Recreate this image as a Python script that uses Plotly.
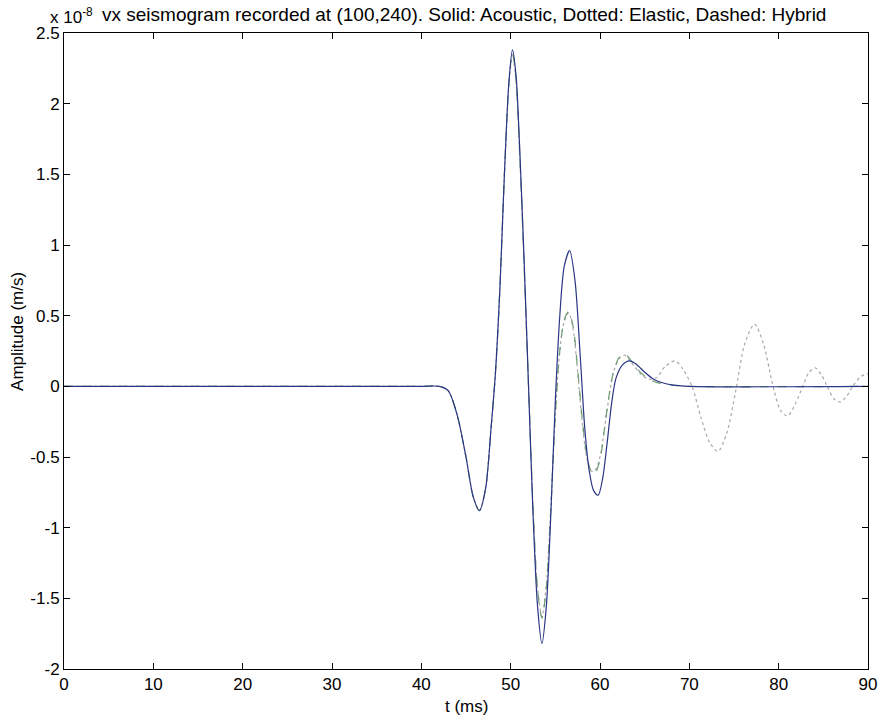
import plotly.graph_objects as go

# ---- data (amplitudes in units of 1e-8 m/s) ----
t_acoustic = [0, 40, 42, 43, 44, 45, 45.8, 46.5, 47.2, 47.8, 48.3, 48.8, 49.3, 49.8, 50.2,
              50.6, 51.0, 51.5, 52.0, 52.5, 53.0, 53.5, 54.0, 54.5, 55.0, 55.5, 56.0, 56.6,
              57.2, 57.8, 58.3, 58.8, 59.3, 59.8, 60.3, 60.8, 61.3, 61.8, 62.5, 63.3, 64.0,
              65.0, 66.0, 67.0, 68.0, 70.0, 90.0]
acoustic = [0, 0, 0, -0.03, -0.2, -0.5, -0.78, -0.88, -0.72, -0.3, 0.1, 0.7, 1.5, 2.15, 2.38,
            2.2, 1.7, 0.9, 0.0, -0.9, -1.55, -1.82, -1.55, -0.9, -0.1, 0.5, 0.85, 0.96,
            0.75, 0.2, -0.3, -0.6, -0.74, -0.77, -0.65, -0.4, -0.12, 0.06, 0.15, 0.18, 0.16,
            0.1, 0.05, 0.025, 0.01, 0.0, 0.0]

t_elastic = [0, 40, 42, 43, 44, 45, 45.8, 46.5, 47.2, 47.8, 48.3, 48.8, 49.3, 49.8, 50.2,
             50.6, 51.0, 51.5, 52.0, 52.5, 53.0, 53.5, 54.0, 54.5, 55.0, 55.5, 56.0, 56.5,
             57.0, 57.5, 58.0, 58.5, 59.0, 59.4, 60.0, 60.5, 61.0, 61.5, 62.2, 62.8, 63.5,
             64.5, 65.5, 66.3, 67.3, 68.4, 69.3, 70.3, 71.3, 72.3, 73.2, 74.2, 75.2, 76.2,
             77.3, 78.3, 79.3, 80.2, 81.0, 81.9, 82.7, 83.4, 84.1, 84.8, 85.5, 86.2, 86.9,
             87.6, 88.3, 89.2, 90.0]
elastic = [0, 0, 0, -0.03, -0.2, -0.5, -0.78, -0.88, -0.72, -0.3, 0.1, 0.7, 1.5, 2.13, 2.35,
           2.15, 1.65, 0.85, 0.0, -0.85, -1.42, -1.63, -1.4, -0.85, -0.2, 0.25, 0.46, 0.52,
           0.4, 0.1, -0.25, -0.5, -0.6, -0.6, -0.5, -0.3, -0.08, 0.1, 0.2, 0.22, 0.17,
           0.09, 0.05, 0.06, 0.14, 0.18, 0.12, 0.0, -0.22, -0.4, -0.46, -0.33, -0.03, 0.3,
           0.44, 0.3, 0.02, -0.17, -0.21, -0.12, 0.0, 0.1, 0.13, 0.08, -0.01, -0.09, -0.11,
           -0.07, 0.0, 0.07, 0.09]

t_hybrid = [0, 40, 42, 43, 44, 45, 45.8, 46.5, 47.2, 47.8, 48.3, 48.8, 49.3, 49.8, 50.2,
            50.6, 51.0, 51.5, 52.0, 52.5, 53.0, 53.5, 54.0, 54.5, 55.0, 55.5, 56.0, 56.5,
            57.0, 57.5, 58.0, 58.5, 59.0, 59.4, 60.0, 60.5, 61.0, 61.5, 62.2, 62.8, 63.5,
            64.5, 65.5, 66.5, 68.0, 70.0, 90.0]
hybrid = [0, 0, 0, -0.03, -0.2, -0.5, -0.78, -0.88, -0.72, -0.3, 0.1, 0.7, 1.5, 2.14, 2.36,
          2.17, 1.67, 0.87, 0.0, -0.85, -1.43, -1.64, -1.42, -0.86, -0.2, 0.25, 0.47, 0.53,
          0.42, 0.12, -0.22, -0.48, -0.6, -0.62, -0.52, -0.3, -0.07, 0.1, 0.21, 0.23, 0.18,
          0.1, 0.05, 0.025, 0.01, 0.0, 0.0]

x_ticks = [0, 10, 20, 30, 40, 50, 60, 70, 80, 90]
x_ticklabels = ["0", "10", "20", "30", "40", "50", "60", "70", "80", "90"]
y_ticks = [-2, -1.5, -1, -0.5, 0, 0.5, 1, 1.5, 2, 2.5]
y_ticklabels = ["-2", "-1.5", "-1", "-0.5", "0", "0.5", "1", "1.5", "2", "2.5"]

title_text = "vx seismogram recorded at (100,240). Solid: Acoustic, Dotted: Elastic, Dashed: Hybrid"
exponent_text = "x 10<sup>-8</sup>"
x_label = "t (ms)"
y_label = "Amplitude (m/s)"

FONT = "Arial, Liberation Sans, sans-serif"

fig = go.Figure()
fig.add_trace(go.Scatter(x=t_elastic, y=elastic, mode="lines", name="Elastic",
                         line=dict(color="#a8a8a8", width=1.2, dash="dot", shape="spline", smoothing=0.8)))
fig.add_trace(go.Scatter(x=t_hybrid, y=hybrid, mode="lines", name="Hybrid",
                         line=dict(color="#6f9a72", width=1.2, dash="dash", shape="spline", smoothing=0.8)))
fig.add_trace(go.Scatter(x=t_acoustic, y=acoustic, mode="lines", name="Acoustic",
                         line=dict(color="#2a3585", width=1.2, shape="spline", smoothing=0.8)))

fig.update_layout(
    width=881, height=716,
    margin=dict(l=64, r=13, t=33, b=47, autoexpand=False),
    paper_bgcolor="white", plot_bgcolor="white",
    showlegend=False,
    font=dict(family=FONT, size=17, color="black"),
)
# title
fig.add_annotation(text=title_text, xref="paper", yref="paper",
                   x=0.497, y=1.0, xanchor="center", yanchor="middle", yshift=19,
                   showarrow=False, font=dict(family=FONT, size=19, color="black"))
# exponent
fig.add_annotation(text=exponent_text, xref="paper", yref="paper",
                   x=-0.02, y=1.0, xanchor="left", yanchor="middle", yshift=17,
                   showarrow=False, font=dict(family=FONT, size=17, color="black"))
# axis labels
fig.add_annotation(text=x_label, xref="paper", yref="paper",
                   x=0.501, y=0.0, xanchor="center", yanchor="middle", yshift=-37,
                   showarrow=False, font=dict(family=FONT, size=17, color="black"))
fig.add_annotation(text=y_label, xref="paper", yref="paper", textangle=-90,
                   x=0.0, y=0.53, xanchor="center", yanchor="middle", xshift=-46,
                   showarrow=False, font=dict(family=FONT, size=17, color="black"))

fig.update_xaxes(range=[0, 90], tickvals=x_ticks, ticktext=x_ticklabels, automargin=False,
                 ticks="inside", ticklen=6, tickcolor="black", mirror="allticks",
                 showline=True, linecolor="black", linewidth=1, showgrid=False, zeroline=False,
                 tickfont=dict(family=FONT, size=17))
fig.update_yaxes(range=[-2, 2.5], tickvals=y_ticks, ticktext=y_ticklabels, automargin=False,
                 ticks="inside", ticklen=6, tickcolor="black", mirror="allticks",
                 showline=True, linecolor="black", linewidth=1, showgrid=False, zeroline=False,
                 tickfont=dict(family=FONT, size=17))

fig.write_html("out.html", config={"displayModeBar": False},
               post_script="document.body.style.margin='0';document.body.style.padding='0';")
